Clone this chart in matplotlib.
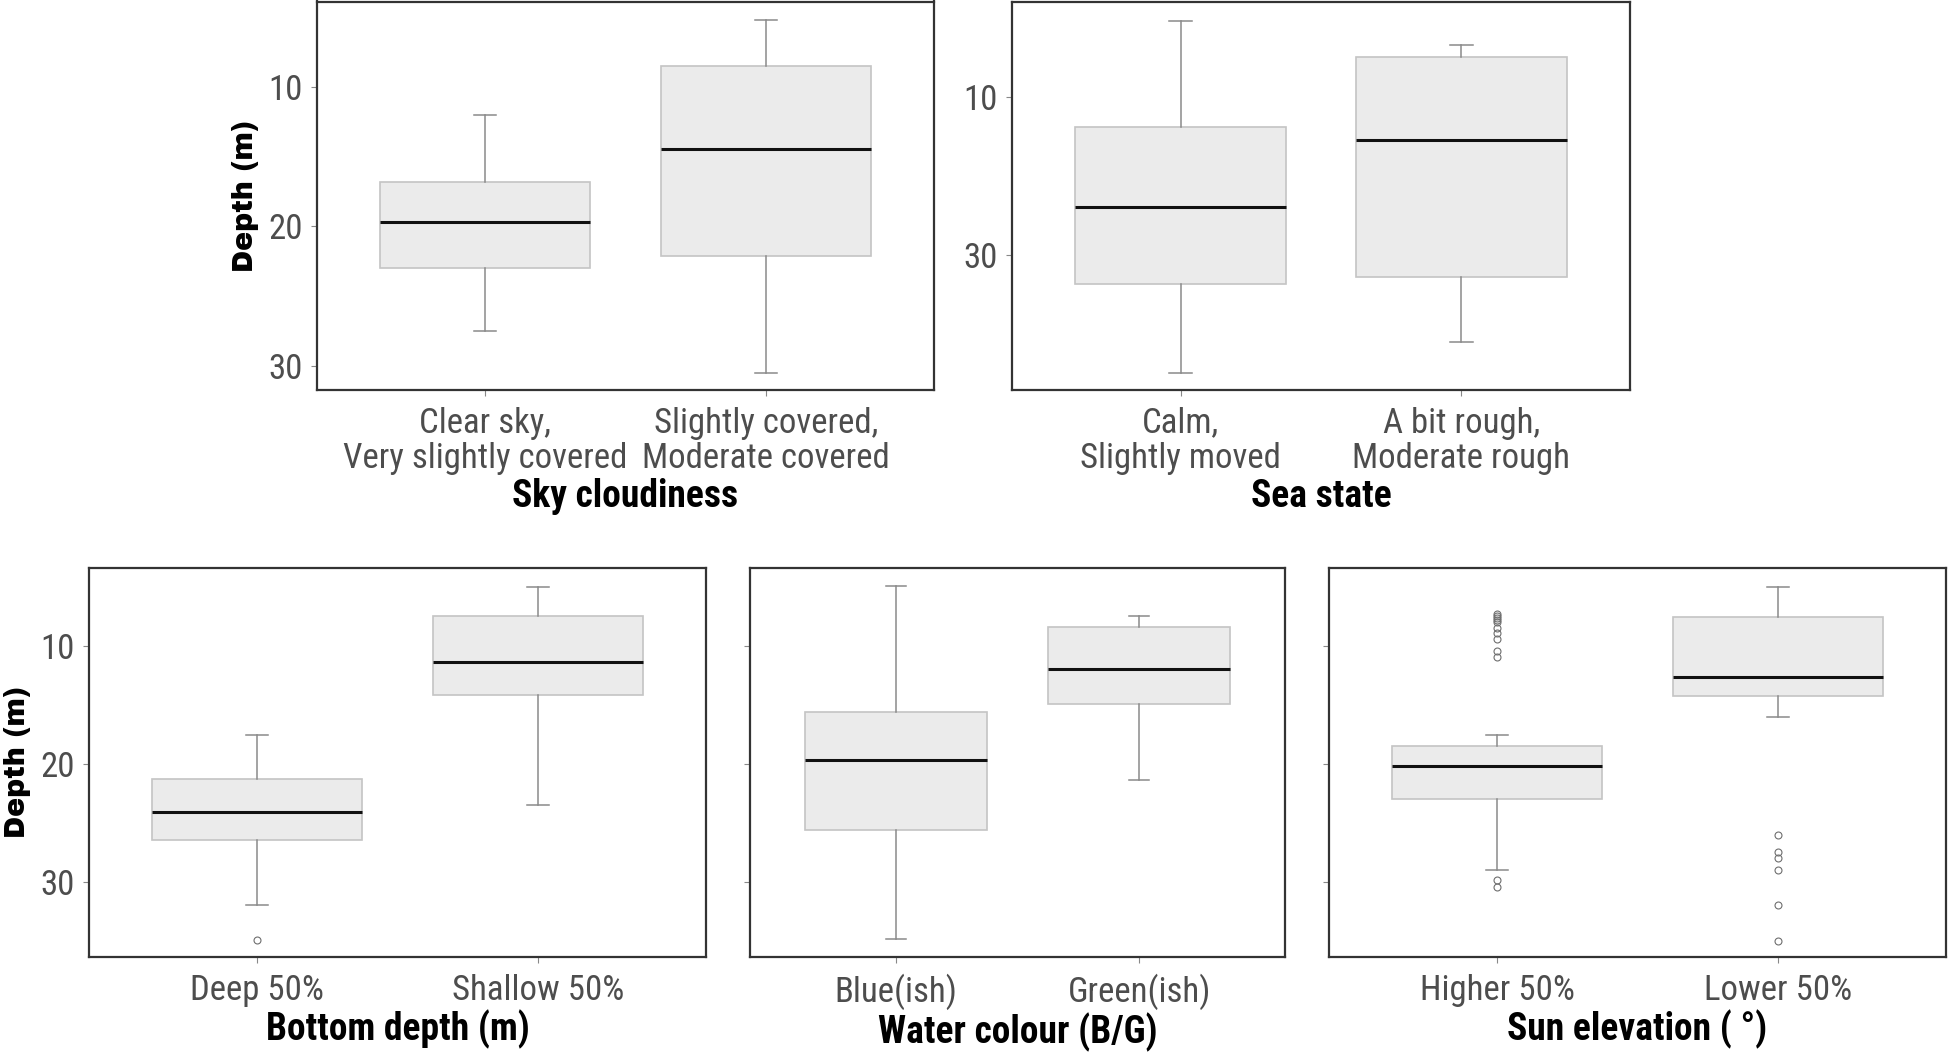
import matplotlib
matplotlib.use("Agg")
import matplotlib.pyplot as plt

# --- data (depth in m, axis inverted) ---
sky_labels = ["Clear sky,\nVery slightly covered", "Slightly covered,\nModerate covered"]
sky_lo = [12.0, 5.2]
sky_q1 = [16.8, 8.5]
sky_med = [19.65, 14.45]
sky_q3 = [23.0, 22.15]
sky_hi = [27.5, 30.55]

sea_labels = ["Calm,\nSlightly moved", "A bit rough,\nModerate rough"]
sea_lo = [0.4, 3.45]
sea_q1 = [13.85, 4.9]
sea_med = [24.0, 15.4]
sea_q3 = [33.75, 32.8]
sea_hi = [45.1, 41.1]

bottom_labels = ["Deep 50%", "Shallow 50%"]
bottom_lo = [17.5, 4.95]
bottom_q1 = [21.3, 7.45]
bottom_med = [24.05, 11.3]
bottom_q3 = [26.5, 14.1]
bottom_hi = [32.0, 23.5]
bottom_fliers = [[34.95], []]

water_labels = ["Blue(ish)", "Green(ish)"]
water_lo = [4.9, 7.45]
water_q1 = [15.6, 8.4]
water_med = [19.65, 11.9]
water_q3 = [25.6, 14.9]
water_hi = [34.9, 21.4]

sun_labels = ["Higher 50%", "Lower 50%"]
sun_lo = [17.55, 4.95]
sun_q1 = [18.5, 7.5]
sun_med = [20.2, 12.65]
sun_q3 = [23.0, 14.2]
sun_hi = [29.0, 16.0]
sun_fliers = [
    [7.3, 7.45, 7.6, 7.75, 7.95, 8.45, 8.9, 9.4, 10.4, 10.95, 29.9, 30.45],
    [26.0, 27.5, 27.95, 29.0, 32.0, 35.0],
]

NARROW = ["Roboto Condensed", "Archivo Narrow", "Liberation Sans", "DejaVu Sans"]
HEAVY = ["Archivo Black", "DejaVu Sans"]
W, H = 1949, 1055

fig = plt.figure(figsize=(W / 100, H / 100), dpi=100)


def add_panel(x0, y0, x1, y1):
    # pixel box (top-left origin) -> figure fraction
    return fig.add_axes([x0 / W, 1 - y1 / H, (x1 - x0) / W, (y1 - y0) / H])


def make_stats(lo, q1, med, q3, hi, fliers=None):
    stats = []
    for i in range(len(med)):
        stats.append(
            {
                "whislo": lo[i],
                "q1": q1[i],
                "med": med[i],
                "q3": q3[i],
                "whishi": hi[i],
                "fliers": fliers[i] if fliers else [],
            }
        )
    return stats


def draw_box(ax, stats, labels, ylim, yticks, xtitle, show_ylabels=True, ylabel=None):
    ax.bxp(
        stats,
        positions=[1, 2],
        widths=0.75,
        capwidths=0.08,
        patch_artist=True,
        showfliers=True,
        boxprops=dict(facecolor="#EBEBEB", edgecolor="#C4C4C4", linewidth=1.2),
        medianprops=dict(color="#111111", linewidth=2.2),
        whiskerprops=dict(color="#8A8A8A", linewidth=1.1),
        capprops=dict(color="#8A8A8A", linewidth=1.1),
        flierprops=dict(
            marker="o", markersize=5, markerfacecolor="none",
            markeredgecolor="#6E6E6E", markeredgewidth=0.8, linestyle="none",
        ),
    )
    ax.set_xlim(0.4, 2.6)
    ax.set_ylim(*ylim)
    ax.set_yticks(yticks)
    ax.set_xticks([1, 2])
    ax.set_xticklabels(labels, family=NARROW, fontsize=25, color="#4D4D4D",
                       linespacing=1.08)
    if show_ylabels:
        ax.set_yticklabels([str(t) for t in yticks], family=NARROW,
                           fontsize=25, color="#4D4D4D")
    else:
        ax.set_yticklabels([])
    ax.tick_params(axis="x", length=4, width=0.8, color="#888888", pad=8)
    ax.tick_params(axis="y", length=4, width=0.8, color="#888888", pad=6)
    for s in ax.spines.values():
        s.set_color("#333333")
        s.set_linewidth(1.6)
    ax.set_xlabel(xtitle, family=NARROW, fontsize=27, fontweight="bold",
                  color="black", labelpad=2)
    if ylabel:
        ax.set_ylabel(ylabel, family=HEAVY, fontsize=20.5, fontweight="bold",
                      color="black", labelpad=7)


ax1 = add_panel(317, 1.5, 934, 390)
draw_box(ax1, make_stats(sky_lo, sky_q1, sky_med, sky_q3, sky_hi), sky_labels,
         (31.74, 3.85), [10, 20, 30], "Sky cloudiness", ylabel="Depth (m)")

ax2 = add_panel(1012, 1.5, 1630, 390)
draw_box(ax2, make_stats(sea_lo, sea_q1, sea_med, sea_q3, sea_hi), sea_labels,
         (47.2, -2.13), [10, 30], "Sea state")

ax3 = add_panel(89, 568, 706, 957)
draw_box(ax3, make_stats(bottom_lo, bottom_q1, bottom_med, bottom_q3, bottom_hi, bottom_fliers),
         bottom_labels, (36.4, 3.35), [10, 20, 30], "Bottom depth (m)", ylabel="Depth (m)")

ax4 = add_panel(750, 568, 1285, 957)
draw_box(ax4, make_stats(water_lo, water_q1, water_med, water_q3, water_hi),
         water_labels, (36.4, 3.35), [10, 20, 30], "Water colour (B/G)", show_ylabels=False)

ax5 = add_panel(1329, 568, 1946, 957)
draw_box(ax5, make_stats(sun_lo, sun_q1, sun_med, sun_q3, sun_hi, sun_fliers),
         sun_labels, (36.4, 3.35), [10, 20, 30], "Sun elevation ( °)", show_ylabels=False)

fig.savefig("out.png", dpi=100, facecolor="white")
